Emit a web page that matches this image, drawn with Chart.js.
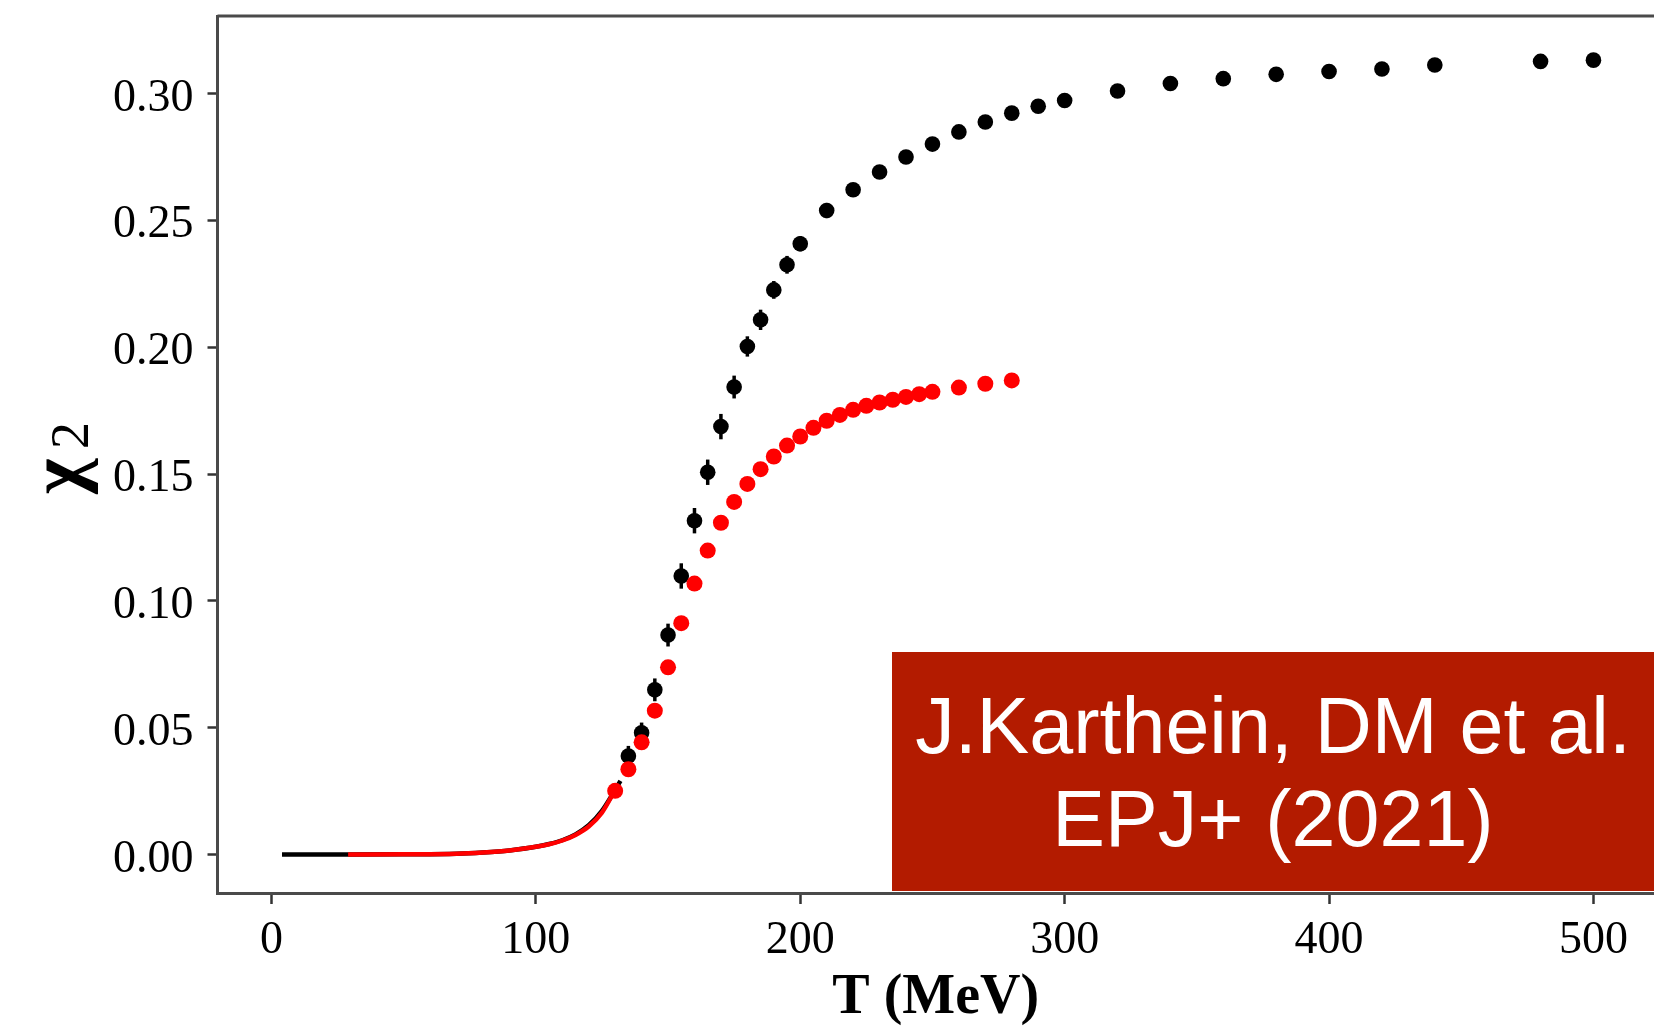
<!DOCTYPE html>
<html>
<head>
<meta charset="utf-8">
<script src="https://cdn.jsdelivr.net/npm/chart.js@4.4.1/dist/chart.umd.min.js"></script>
<style>
  html, body { margin: 0; padding: 0; background: #fff; overflow: hidden; }
  #wrap { position: relative; width: 1654px; height: 1027px; }
  #ref {
    position: absolute; left: 892px; top: 652px; width: 762px; height: 239px;
    box-sizing: border-box; padding-top: 27px;
    background: #b31b00; color: #fff;
    font-family: "Liberation Sans", Arial, sans-serif; font-size: 79px; line-height: 93px;
    text-align: center; white-space: nowrap;
  }
</style>
</head>
<body>
<div id="wrap">
  <canvas id="chart"></canvas>
  <div id="ref">J.Karthein, DM et al.<br>EPJ+ (2021)</div>
</div>
<script>
// lattice points (black, with error bars)
const blackT = [135, 140, 145, 150, 155, 160, 165, 170, 175, 180, 185, 190, 195, 200,
  210, 220, 230, 240, 250, 260, 270, 280, 290, 300, 320, 340, 360, 380, 400, 420, 440, 480, 500];
const blackChi = [0.0388, 0.0480, 0.0649, 0.0865, 0.1098, 0.1316, 0.1507, 0.1687, 0.1843,
  0.2003, 0.2108, 0.2226, 0.2325, 0.2408, 0.2539, 0.2621, 0.2691, 0.2750, 0.2801, 0.2849,
  0.2888, 0.2923, 0.2950, 0.2973, 0.3010, 0.3040, 0.3059, 0.3076, 0.3087, 0.3097, 0.3113,
  0.3127, 0.3132];
const blackErr = [0.004, 0.004, 0.0045, 0.0045, 0.005, 0.005, 0.005, 0.005, 0.0045, 0.004,
  0.004, 0.0035, 0.0035, 0.003, 0.003, 0.002, 0.002, 0.002, 0.002, 0.002, 0.002, 0.002,
  0.002, 0.002, 0.002, 0.002, 0.002, 0.002, 0.002, 0.002, 0.002, 0.002, 0.002];

// red points
const redT = [130, 135, 140, 145, 150, 155, 160, 165, 170, 175, 180, 185, 190, 195, 200,
  205, 210, 215, 220, 225, 230, 235, 240, 245, 250, 260, 270, 280];
const redChi = [0.0251, 0.0336, 0.0442, 0.0567, 0.0738, 0.0912, 0.1068, 0.1198, 0.1308,
  0.1390, 0.1461, 0.1519, 0.1569, 0.1612, 0.1648, 0.1682, 0.1710, 0.1733, 0.1753, 0.1769,
  0.1782, 0.1793, 0.1804, 0.1815, 0.1824, 0.1841, 0.1856, 0.1869];

// low temperature curves
const blackLineT = [4, 30, 50, 70, 80, 90, 100, 105, 110, 115, 120, 125, 130, 132];
const blackLineChi = [0, 0, 0.0001, 0.0003, 0.0008, 0.0016, 0.0030, 0.0041, 0.0056, 0.0079,
  0.0115, 0.0172, 0.0255, 0.0290];
const redLineT = [29, 50, 70, 80, 90, 100, 105, 110, 115, 120, 125, 129];
const redLineChi = [0, 0.0001, 0.0003, 0.0008, 0.0016, 0.0030, 0.0040, 0.0055, 0.0077,
  0.0110, 0.0165, 0.0235];

const xTicks = [0, 100, 200, 300, 400, 500];
const yTicks = [0, 0.05, 0.10, 0.15, 0.20, 0.25, 0.30];
const xTitle = "T (MeV)";
const yTitleMain = "χ";
const yTitleSub = "2";

const SERIF = "'Liberation Serif', 'Times New Roman', serif";
const AXIS_COLOR = "#4a4a4a";

const toPoints = (xs, ys) => xs.map((x, i) => ({ x: x, y: ys[i] }));

const errorBars = {
  id: "errorBars",
  beforeDatasetDraw(chart, args) {
    if (args.index !== 1) return;
    const { ctx, scales } = chart;
    ctx.save();
    ctx.strokeStyle = "#000";
    ctx.lineWidth = 3.5;
    blackT.forEach((t, i) => {
      const x = scales.x.getPixelForValue(t);
      ctx.beginPath();
      ctx.moveTo(x, scales.y.getPixelForValue(blackChi[i] - blackErr[i]));
      ctx.lineTo(x, scales.y.getPixelForValue(blackChi[i] + blackErr[i]));
      ctx.stroke();
    });
    ctx.restore();
  },
};

// top spine + the rotated chi_2 label
const frame = {
  id: "frame",
  afterDraw(chart) {
    const { ctx, chartArea } = chart;
    ctx.save();
    ctx.strokeStyle = AXIS_COLOR;
    ctx.lineWidth = 3;
    ctx.beginPath();
    ctx.moveTo(chartArea.left, chartArea.top);
    ctx.lineTo(chart.width, chartArea.top);
    ctx.stroke();

    ctx.translate(82, 494);
    ctx.rotate(-Math.PI / 2);
    ctx.fillStyle = "#000";
    ctx.textBaseline = "alphabetic";
    ctx.textAlign = "left";
    ctx.font = "bold 76px " + SERIF;
    ctx.fillText(yTitleMain, 0, 0);
    ctx.font = "54px " + SERIF;
    ctx.fillText(yTitleSub, 45, 6);
    ctx.restore();
  },
};

new Chart(document.getElementById("chart"), {
  type: "scatter",
  data: {
    datasets: [
      {
        data: toPoints(redT, redChi),
        backgroundColor: "#ff0000",
        borderWidth: 0,
        pointRadius: 8,
      },
      {
        data: toPoints(blackT, blackChi),
        backgroundColor: "#000",
        borderWidth: 0,
        pointRadius: 7.8,
      },
      {
        data: toPoints(redLineT, redLineChi),
        showLine: true,
        borderColor: "#ff0000",
        borderWidth: 4.5,
        pointRadius: 0,
        cubicInterpolationMode: "monotone",
      },
      {
        data: toPoints(blackLineT, blackLineChi),
        showLine: true,
        borderColor: "#000",
        borderWidth: 4.5,
        pointRadius: 0,
        cubicInterpolationMode: "monotone",
      },
    ],
  },
  options: {
    animation: false,
    responsive: true,
    maintainAspectRatio: false,
    layout: { autoPadding: false, padding: { top: 16, right: 0, bottom: 0, left: 0 } },
    plugins: { legend: { display: false }, tooltip: { enabled: false } },
    scales: {
      x: {
        type: "linear",
        min: -20.4,
        max: 522.9,
        afterBuildTicks: (axis) => { axis.ticks = xTicks.map((v) => ({ value: v })); },
        afterFit: (s) => { s.height = 134; s.paddingLeft = 0; s.paddingRight = 0; },
        border: { display: true, color: AXIS_COLOR, width: 3 },
        grid: { drawOnChartArea: false, drawTicks: true, tickLength: 11, tickColor: "#333", tickWidth: 2.5 },
        ticks: { color: "#000", padding: 9, font: { family: SERIF, size: 46 } },
        title: {
          display: true,
          text: xTitle,
          color: "#000",
          padding: { top: 0, bottom: 0 },
          font: { family: SERIF, size: 56, weight: "bold", lineHeight: 1 },
        },
      },
      y: {
        type: "linear",
        min: -0.0152,
        max: 0.3306,
        afterBuildTicks: (axis) => { axis.ticks = yTicks.map((v) => ({ value: v })); },
        afterFit: (s) => { s.width = 217.5; s.paddingTop = 0; s.paddingBottom = 0; },
        border: { display: true, color: AXIS_COLOR, width: 3 },
        grid: { drawOnChartArea: false, drawTicks: true, tickLength: 10, tickColor: "#333", tickWidth: 2.5 },
        ticks: {
          color: "#000",
          padding: 14,
          labelOffset: 5,
          font: { family: SERIF, size: 46 },
          callback: (v) => v.toFixed(2),
        },
      },
    },
  },
  plugins: [errorBars, frame],
});
</script>
</body>
</html>
